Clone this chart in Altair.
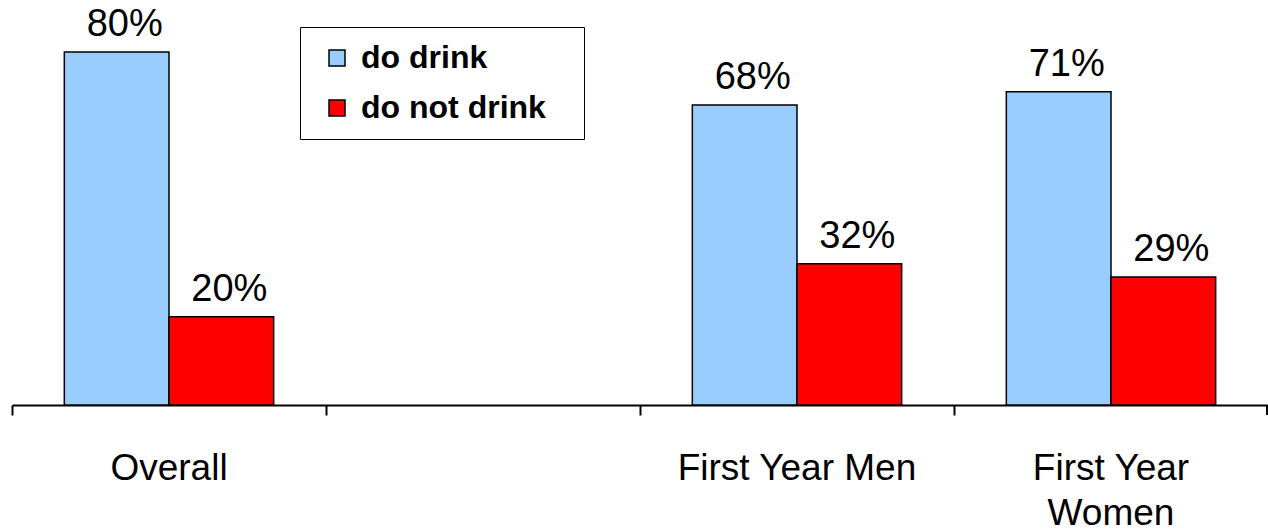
import altair as alt
import pandas as pd

# ---- data ----
categories = ["Overall", "First Year Men", "First Year Women"]
do_drink = [80, 68, 71]
do_not_drink = [20, 32, 29]
series = ["do drink", "do not drink"]
colors = ["#99CCFF", "#FF0000"]
x_domain = ["Overall", "_gap_", "First Year Men", "First Year Women"]

rows = []
for c, a, b in zip(categories, do_drink, do_not_drink):
    rows.append({"category": c, "series": series[0], "value": a})
    rows.append({"category": c, "series": series[1], "value": b})
df = pd.DataFrame(rows)

FONT = "Liberation Sans"

x_scale = alt.Scale(domain=x_domain, paddingInner=0, paddingOuter=0)
x_enc = alt.X(
    "category:N",
    scale=x_scale,
    sort=x_domain,
    axis=alt.Axis(
        title=None,
        labelAngle=0,
        bandPosition=0,
        labelFont=FONT,
        labelFontSize=37,
        labelColor="black",
        labelPadding=35,
        labelBaseline="top",
        labelLineHeight=45,
        labelLimit=600,
        domainColor="black",
        domainWidth=2,
        tickColor="black",
        tickWidth=2,
        tickSize=10,
        grid=False,
        labelExpr="datum.label == 'First Year Women' ? ['First Year', 'Women'] : (datum.label == '_gap_' ? '' : datum.label)",
    ),
)
xoff_enc = alt.XOffset(
    "series:N",
    scale=alt.Scale(domain=series, paddingInner=0, paddingOuter=0.5),
)
y_enc = alt.Y(
    "value:Q",
    scale=alt.Scale(domain=[0, 91.8], nice=False, zero=True),
    axis=None,
)

bars = alt.Chart(df).mark_bar(stroke="black", strokeWidth=1.5).encode(
    x=x_enc,
    xOffset=xoff_enc,
    y=y_enc,
    color=alt.Color(
        "series:N",
        scale=alt.Scale(domain=series, range=colors),
        legend=alt.Legend(
            title=None,
            orient="none",
            legendX=288,
            legendY=27,
            strokeColor="black",
            fillColor="white",
            padding=15,
            symbolOffset=6,
            symbolType="square",
            symbolSize=256,
            symbolStrokeColor="black",
            symbolStrokeWidth=1.5,
            labelFont=FONT,
            labelFontSize=32,
            labelFontWeight="bold",
            labelColor="black",
            labelOffset=8,
            labelLimit=600,
            rowPadding=18,
            labelExpr="datum.label + '\u2800'",
        ),
    ),
)

labels = alt.Chart(df).transform_calculate(
    txt="datum.value + '%'"
).mark_text(
    baseline="bottom", dy=-8, dx=8, font=FONT, fontSize=38, color="black"
).encode(
    x=alt.X("category:N", scale=x_scale, sort=x_domain),
    xOffset=xoff_enc,
    y=y_enc,
    text="txt:N",
)

end_tick = alt.Chart(df).mark_rule(color="black", strokeWidth=2).encode(
    x=alt.value(1255), y=alt.value(405), y2=alt.value(415)
)

chart = alt.layer(bars, labels, end_tick).properties(
    width=1256,
    height=405,
    autosize=alt.AutoSizeParams(type="none"),
    padding={"left": 12, "top": 0, "right": 0, "bottom": 126},
    background="white",
).configure_view(stroke=None)

chart.save("out.html", embed_options={"renderer": "svg", "actions": False})
